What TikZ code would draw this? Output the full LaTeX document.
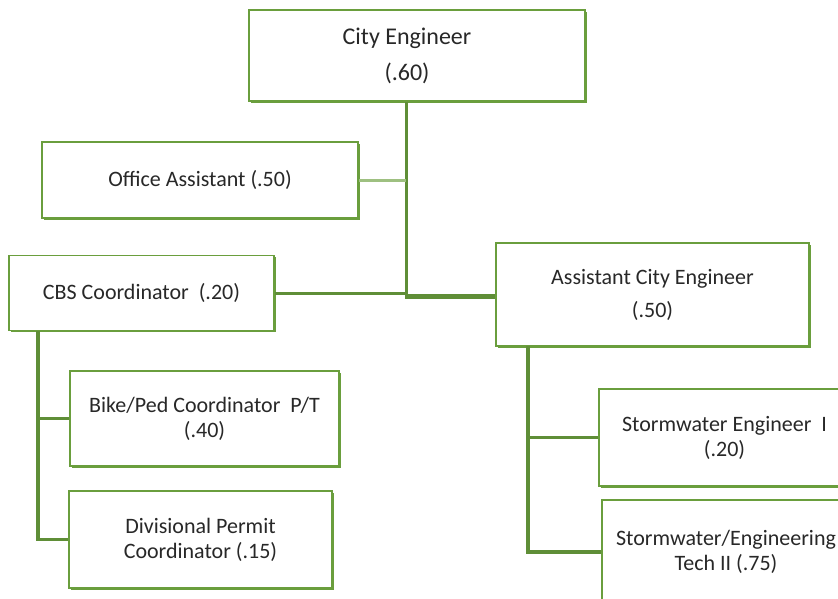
\documentclass[tikz,border=0pt]{standalone}
\usepackage{fontspec}
\setmainfont{Carlito}
\usetikzlibrary{shadows}

\definecolor{orggreen}{RGB}{106,158,61}
\definecolor{orgtext}{RGB}{40,40,40}

\begin{document}
\begin{tikzpicture}[x=1pt,y=-1pt,
    post/.style={draw=orggreen, line width=1.8pt, fill=white, align=center,
        text=orgtext, font=\fontsize{22}{25}\selectfont, inner sep=0pt,
        general shadow={fill=orggreen, shadow xshift=1.6pt, shadow yshift=-1.6pt}},
    link/.style={draw=orggreen!90!black, line width=3.5pt},
    aux/.style={draw=orggreen!65, line width=3pt}]
        \useasboundingbox (0,0) rectangle (838,599);
        \node[post, minimum width=336pt, minimum height=91pt, font=\fontsize{24}{27}\selectfont] (ce) at (417,55.5) {City Engineer\hspace*{20pt}\\[9pt](.60)\hspace*{20pt}};
        \node[post, minimum width=316pt, minimum height=76pt] (oa) at (200,180) {Office Assistant (.50)};
        \node[post, minimum width=265pt, minimum height=75pt] (crs) at (141.5,293) {CBS Coordinator\ \ (.20)};
        \node[post, minimum width=313pt, minimum height=103pt] (ace) at (652.5,294.5) {Assistant City Engineer\\[8pt](.50)};
        \node[post, minimum width=269pt, minimum height=95pt] (bike) at (204.5,418.5) {Bike/Ped Coordinator\ \ P/T\\(.40)};
        \node[post, minimum width=263pt, minimum height=97pt] (dpc) at (200.5,539.5) {Divisional Permit\\Coordinator (.15)};
        \node[post, minimum width=251pt, minimum height=97pt] (swe) at (724.5,437.5) {Stormwater Engineer\ \ I\\(.20)};
        \node[post, minimum width=248pt, minimum height=104pt] (swt) at (726,552) {Stormwater/Engineering\\Tech II (.75)};
        \coordinate (hub) at (406,293);
        \coordinate (hubr) at (406,296);
        \coordinate (ltrunk) at (38,331);
        \coordinate (rtrunk) at (528,346);
        \draw[link, line width=3pt] (ce.south -| hub) -- ([yshift=-1pt]hubr);
        \draw[aux] (oa.east) -- (oa.east -| hub);
        \draw[link, line width=3pt] (crs.east) -- (hub);
        \draw[link, line width=5pt] ([xshift=-1.5pt]hubr) -- (hubr -| ace.west);
        \draw[link] (ltrunk) |- (dpc.west);
        \draw[link] (bike.west) -- (bike.west -| ltrunk);
        \draw[link] (rtrunk) |- (swt.west);
        \draw[link] (swe.west) -- (swe.west -| rtrunk);
    \end{tikzpicture}
\end{document}
